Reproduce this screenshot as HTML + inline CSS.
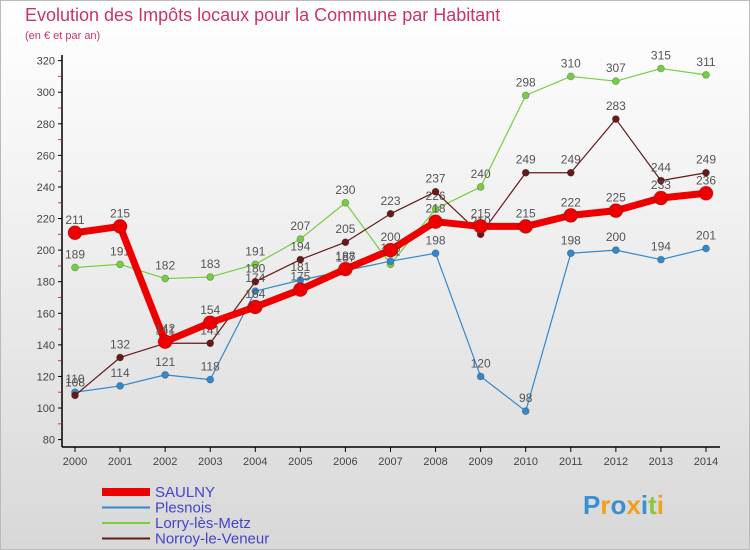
<!DOCTYPE html>
<html><head><meta charset="utf-8"><style>
body{margin:0;width:750px;height:550px;overflow:hidden;font-family:"Liberation Sans",sans-serif}
#wrap{position:relative;width:748px;height:548px;border:1px solid #bbb;background:linear-gradient(#fff 0%,#f4f4f4 30%,#d8d8d8 100%)}
</style></head><body>
<div id="wrap">
<svg id="chart" width="750" height="550" style="position:absolute;left:-1px;top:-1px"></svg>
</div>
<script>
const years=[2000,2001,2002,2003,2004,2005,2006,2007,2008,2009,2010,2011,2012,2013,2014];
const yTicks=[80,100,120,140,160,180,200,220,240,260,280,300,320];
const saulny=[211,215,142,154,164,175,188,200,218,215,215,222,225,233,236];
const plesnois=[110,114,121,118,174,181,187,193,198,120,98,198,200,194,201];
const lorry=[189,191,182,183,191,207,230,191,226,240,298,310,307,315,311];
const norroy=[108,132,141,141,180,194,205,223,237,210,249,249,283,244,249];
const NS='http://www.w3.org/2000/svg';
const svg=document.getElementById('chart');
const X=i=>75+i*(631/14);
const Y=v=>439.6-(v-80)*1.579;
function el(t,a,p){const e=document.createElementNS(NS,t);for(const k in a)e.setAttribute(k,a[k]);(p||svg).appendChild(e);return e;}
function txt(x,y,s,a){const e=el('text',Object.assign({x:x,y:y,'font-family':'Liberation Sans, sans-serif'},a));e.textContent=s;return e;}
let t=txt(25,21,'Evolution des Impôts locaux pour la Commune par Habitant',{'font-size':18,fill:'#cc3366'});


t=txt(25,39,'(en € et par an)',{'font-size':11,fill:'#cc3366'});


let a=el('line',{x1:62,y1:55,x2:62,y2:447,stroke:'#000','stroke-width':1.5});


a=el('line',{x1:62,y1:447,x2:720,y2:447,stroke:'#000','stroke-width':1.5});


yTicks.forEach((v,i)=>{
  el('line',{x1:58,y1:Y(v),x2:62,y2:Y(v),stroke:'#000'});
  if(i<yTicks.length-1)el('line',{x1:58,y1:Y(v+10),x2:61,y2:Y(v+10),stroke:'#e33'});
  const l=txt(55,Y(v)+4,String(v),{'font-size':11,fill:'#444','text-anchor':'end'});
  
  
});
years.forEach((y,i)=>{
  el('line',{x1:X(i),y1:447,x2:X(i),y2:452,stroke:'#000'});
  const l=txt(X(i),465,String(y),{'font-size':11,fill:'#444','text-anchor':'middle'});
  
  
});
function series(vals,color,w,r,name){
  const g=el('g',{});
  
  
  el('polyline',{points:vals.map((v,i)=>X(i)+','+Y(v)).join(' '),fill:'none',stroke:color,'stroke-width':w,'stroke-linejoin':'round'},g);
  vals.forEach((v,i)=>{
    const c=el('circle',{cx:X(i),cy:Y(v),r:r,fill:color,stroke:'rgba(0,0,0,0.25)','stroke-width':0.8},g);
    
    
    const l=txt(X(i),Y(v)-9,String(v),{'font-size':12,fill:'#555','text-anchor':'middle'},g);
    
    
  });
}
series(lorry,'#77cc44',1.2,3.5,'lorry-les-metz');
series(plesnois,'#3388cc',1.2,3.5,'plesnois');
series(norroy,'#661a1a',1.2,3.5,'norroy-le-veneur');
series(saulny,'#ee0000',7,7,'saulny');
const leg=[['SAULNY','#ee0000',8],['Plesnois','#3388cc',2],['Lorry-lès-Metz','#77cc44',2],['Norroy-le-Veneur','#661a1a',2]];
leg.forEach((d,i)=>{
  const g=el('g',{});
  
  
  const y=492+i*15.5;
  el('line',{x1:102,y1:y,x2:150,y2:y,stroke:d[1],'stroke-width':d[2]},g);
  txt(155,y+5,d[0],{'font-size':15,fill:'#4444cc'},g);
});
const lg=el('g',{});


const lt=txt(583,514,'',{'font-size':26,'font-weight':'bold'},lg);
[['P','#3a8fd0'],['r','#f0a020'],['o','#3a8fd0'],['x','#f0a020'],['i','#3a8fd0'],['t','#8cc63f'],['i','#f0a020']].forEach(c=>{
  const s=document.createElementNS(NS,'tspan');s.setAttribute('fill',c[1]);s.textContent=c[0];lt.appendChild(s);
});
</script>
</body></html>
